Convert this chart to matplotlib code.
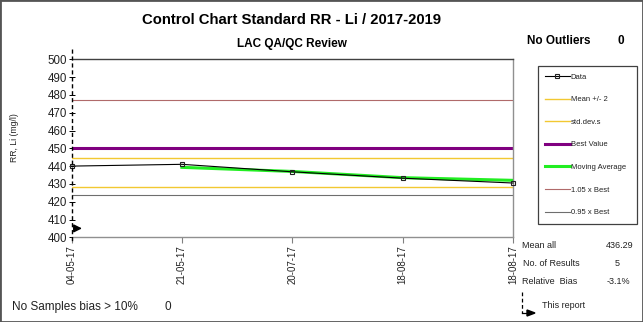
import matplotlib
matplotlib.use('Agg')
import matplotlib.pyplot as plt
from matplotlib.lines import Line2D
from matplotlib.patches import Rectangle

plt.rcParams['font.family'] = ['Liberation Sans', 'DejaVu Sans']

# donnees
dates = ['04-05-17', '21-05-17', '20-07-17', '18-08-17', '18-08-17']
data_vals = [440.0, 441.0, 436.8, 433.2, 430.5]
moving_avg = [None, 439.3, 437.0, 433.5, 432.0]
mean_plus = 444.8
mean_minus = 428.3
best_value = 450.0
best_105 = 477.0
best_095 = 424.0
start_level = 405.0

mean_all = '436.29'
n_results = '5'
rel_bias = '-3.1%'
n_outliers = '0'
n_bias10 = '0'

W, H = 643, 322


def fx(x):
  return x / W


def fy(y):
  return 1 - y / H


fig = plt.figure(figsize=(W / 100, H / 100), dpi=100)
ax = fig.add_axes([fx(71.5), fy(237.3), fx(513) - fx(71.5), fy(59.3) - fy(237.3)])

x = list(range(len(dates)))
xm = [i for i, v in zip(x, moving_avg) if v is not None]
ym = [v for v in moving_avg if v is not None]

l_mean = ax.axhline(mean_plus, color='#f2c832', lw=1.0)
l_std = ax.axhline(mean_minus, color='#f2c832', lw=1.0)
l_best = ax.axhline(best_value, color='#800080', lw=2.2)
l_105 = ax.axhline(best_105, color='#b06a6a', lw=0.8)
l_095 = ax.axhline(best_095, color='#6e6e6e', lw=0.8)
l_ma, = ax.plot(xm, ym, color='#22ee22', lw=2.2, zorder=3)
l_data, = ax.plot(x, data_vals, color='black', lw=0.8, marker='s', ms=3.5,
                  mfc='none', mec='#222222', mew=0.8, zorder=4, clip_on=False)

# fleche debut
ax.annotate('', xy=(0.12, start_level), xytext=(0, start_level),
            arrowprops=dict(arrowstyle='-|>', color='black', lw=1.0, mutation_scale=12))

ax.set_xlim(0, len(dates) - 1)
ax.set_ylim(400, 500)
ax.set_yticks(range(400, 501, 10))
ax.set_xticks(x)
ax.set_xticklabels(dates, rotation=90, fontsize=7, color='#222222')
ax.tick_params(axis='y', labelsize=8.3, labelcolor='#222222', direction='inout',
               length=4, width=0.7, pad=1)
ax.tick_params(axis='x', direction='out', length=4, width=0.8, color='#808080', pad=2)

ax.spines['left'].set_visible(False)
ax.spines['top'].set_color('#404040')
ax.spines['right'].set_color('#909090')
ax.spines['bottom'].set_color('#909090')
for s in ['top', 'right', 'bottom']:
  ax.spines[s].set_linewidth(1.0)

ax.set_ylabel('RR, Li (mg/l)', fontsize=6.2, color='#222222')
ax.yaxis.set_label_coords(-0.118, 0.56)

# ligne pointillee a gauche
fig.add_artist(Line2D([fx(71.5), fx(71.5)], [fy(49), fy(241)], color='black',
                      lw=1.0, ls=(0, (3, 2))))

# titres
fig.text(fx(291), fy(20.5), 'Control Chart Standard RR - Li / 2017-2019', fontsize=10.7,
         fontweight='bold', ha='center', va='center')
fig.text(fx(292), fy(44.5), 'LAC QA/QC Review', fontsize=8.5, fontweight='bold',
         ha='center', va='center')
fig.text(fx(527), fy(41), 'No Outliers', fontsize=8.5, fontweight='bold', va='center')
fig.text(fx(621), fy(41), n_outliers, fontsize=8.5, fontweight='bold', ha='center', va='center')

# legende
handles = [l_data, l_mean, l_std, l_best, l_ma, l_105, l_095]
labels = ['Data', 'Mean +/- 2', 'std.dev.s', 'Best Value', 'Moving Average',
          '1.05 x Best', '0.95 x Best']
leg = fig.legend(handles, labels, loc='upper left',
                 bbox_to_anchor=(fx(538), fy(222), fx(637) - fx(538), fy(66) - fy(222)),
                 mode='expand', fontsize=5.5, labelspacing=2.0, handlelength=3.2,
                 handletextpad=0.15, borderpad=0.95, borderaxespad=0, numpoints=1,
                 fancybox=False, framealpha=1, edgecolor='#404040')
leg.get_frame().set_linewidth(0.9)
for t in leg.get_texts():
  t.set_color('#222222')

# stats en bas a droite
fig.text(fx(522), fy(246), 'Mean all', fontsize=6.5, va='center', color='#222222')
fig.text(fx(633), fy(246), mean_all, fontsize=6.5, va='center', ha='right', color='#222222')
fig.text(fx(523), fy(264), 'No. of Results', fontsize=6.5, va='center', color='#222222')
fig.text(fx(617), fy(264), n_results, fontsize=6.5, va='center', ha='center', color='#222222')
fig.text(fx(522), fy(281), 'Relative  Bias', fontsize=6.5, va='center', color='#222222')
fig.text(fx(607), fy(281), rel_bias, fontsize=6.5, va='center', color='#222222')
fig.text(fx(542), fy(305), 'This report', fontsize=6.5, va='center', color='#222222')

fig.add_artist(Line2D([fx(522), fx(522)], [fy(292), fy(313)], color='black',
                      lw=0.9, ls=(0, (3, 2))))
fig.add_artist(Line2D([fx(522), fx(528)], [fy(313), fy(313)], color='black', lw=0.9))
fig.patches.append(plt.Polygon([[fx(527), fy(310)], [fx(535), fy(313)], [fx(527), fy(316)]],
                               closed=True, color='black', transform=fig.transFigure))

fig.text(fx(12), fy(307), 'No Samples bias > 10%', fontsize=8.5, va='center', color='#222222')
fig.text(fx(164), fy(307), n_bias10, fontsize=8.5, va='center', color='#222222')

# cadre
fig.patches.append(Rectangle((0, 0), 1, 1, transform=fig.transFigure, fill=False,
                             edgecolor='#555555', lw=2.0))

fig.savefig('out.png', dpi=100)
